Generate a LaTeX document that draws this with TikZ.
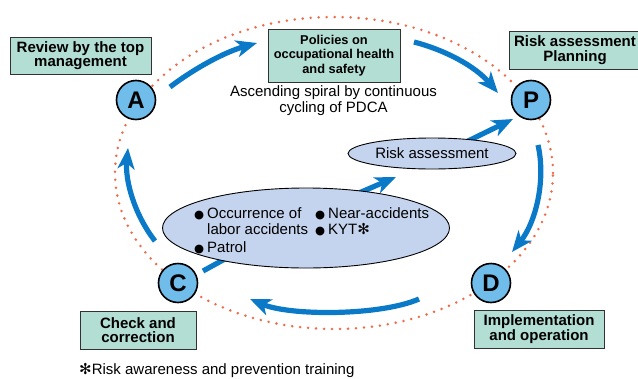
\documentclass[tikz,border=0pt]{standalone}
\usepackage{fontspec}
\setmainfont{Liberation Sans}
\newfontfamily\dejavu{DejaVu Sans}
\usetikzlibrary{arrows.meta,shapes.geometric}
\definecolor{boxgreen}{RGB}{178,222,212}
\definecolor{boxedge}{RGB}{50,50,50}
\definecolor{circblue}{RGB}{112,188,234}
\definecolor{bubblefill}{RGB}{197,212,238}
\definecolor{arrowblue}{RGB}{10,122,200}
\definecolor{dotred}{RGB}{240,106,74}
\newcommand{\bul}{{\dejavu\fontsize{11.5}{11.5}\selectfont ●}}
\newcommand{\astk}{{\dejavu ✻}}
\begin{document}
\begin{tikzpicture}[x=1pt,y=-1pt,
  font=\fontsize{15}{16}\selectfont,
  box/.style={draw=boxedge, line width=1pt, fill=boxgreen, align=center, inner sep=0pt,
    font=\bfseries\fontsize{15}{14.5}\selectfont},
  letter/.style={circle, draw=black, line width=1.6pt, fill=circblue, minimum size=39pt,
    inner sep=0pt, font=\bfseries\fontsize{24}{24}\selectfont},
  flow/.style={draw=arrowblue, line width=5.2pt, -{Stealth[length=21pt,width=17pt,inset=6pt]}},
  flowline/.style={draw=arrowblue, line width=5.2pt},
  bubble/.style={ellipse, draw=black, line width=0.9pt, fill=bubblefill, inner sep=0pt},
  txt/.style={inner sep=0pt, anchor=base west}]
\useasboundingbox (0,0) rectangle (638,378);

% dotted cycle
\draw[dotred, line width=2.8pt, line cap=round, dash pattern=on 0pt off 8pt]
  (334,173) ellipse [x radius=219pt, y radius=156pt];

% arrow end points
\coordinate (a1s) at (170,87);  \coordinate (a1e) at (257,43);
\coordinate (a2s) at (414,42);  \coordinate (a2e) at (498,93);
\coordinate (a3s) at (538,145); \coordinate (a3e) at (512,252);
\coordinate (a4s) at (419,299); \coordinate (a4e) at (250,299);
\coordinate (a5s) at (155,241); \coordinate (a5e) at (128,148);
\coordinate (a6s) at (203,271); \coordinate (a6e) at (245,248);
\coordinate (a7s) at (345,199); \coordinate (a7e) at (396,177);
\coordinate (a8s) at (468,141); \coordinate (a8e) at (513,119);

\draw[flow] (a1s) .. controls (195,68) and (225,52) .. (a1e);
\draw[flow] (a2s) .. controls (445,50) and (475,66) .. (a2e);
\draw[flow] (a3s) .. controls (546,180) and (536,222) .. (a3e);
\draw[flow] (a4s) .. controls (380,316) and (290,316) .. (a4e);
\draw[flow] (a5s) .. controls (134,214) and (125,180) .. (a5e);
\draw[flowline] (a6s) -- (a6e);
\draw[flow] (a7s) -- (a7e);
\draw[flow] (a8s) -- (a8e);

% ellipses
\node[bubble, minimum width=168pt, minimum height=31pt] (ra) at (432,153.5) {Risk assessment};
\node[bubble, minimum width=287pt, minimum height=80pt] (big) at (306,228) {};

\node[txt] (t1) at (194,218.3) {\bul\hspace{3pt}Occurrence of};
\node[txt] (t2) at (207,234) {labor accidents};
\node[txt] (t3) at (194,252.7) {\bul\hspace{3pt}Patrol};
\node[txt] (t4) at (315,218.3) {\bul\hspace{3pt}Near-accidents};
\node[txt] (t5) at (315,234.5) {\bul\hspace{3pt}KYT\astk};

% PDCA circles
\node[letter] (A) at (136,100) {A};
\node[letter] (P) at (531,100) {P};
\node[letter] (C) at (178,283) {C};
\node[letter] (D) at (491,283) {D};

% green boxes
\node[box, minimum width=141pt, minimum height=37pt] (rev) at (80.5,55.5) {Review by the top\\management};
\node[box, minimum width=132pt, minimum height=53pt, font=\bfseries\fontsize{12.8}{14.5}\selectfont] (pol) at (334,55.5) {Policies on\\occupational health\\and safety};
\node[box, minimum width=132pt, minimum height=38pt] (plan) at (575,50) {Risk assessment\\Planning};
\node[box, minimum width=116pt, minimum height=38pt] (chk) at (138,330) {Check and\\correction};
\node[box, minimum width=130pt, minimum height=38pt] (imp) at (539,329) {Implementation\\and operation};

% texts
\node[inner sep=0pt, align=center] (spiral) at (333.5,101) {Ascending spiral by continuous\\cycling of PDCA};
\node[inner sep=0pt, anchor=west] (note) at (79,370) {\astk Risk awareness and prevention training};
\end{tikzpicture}
\end{document}
